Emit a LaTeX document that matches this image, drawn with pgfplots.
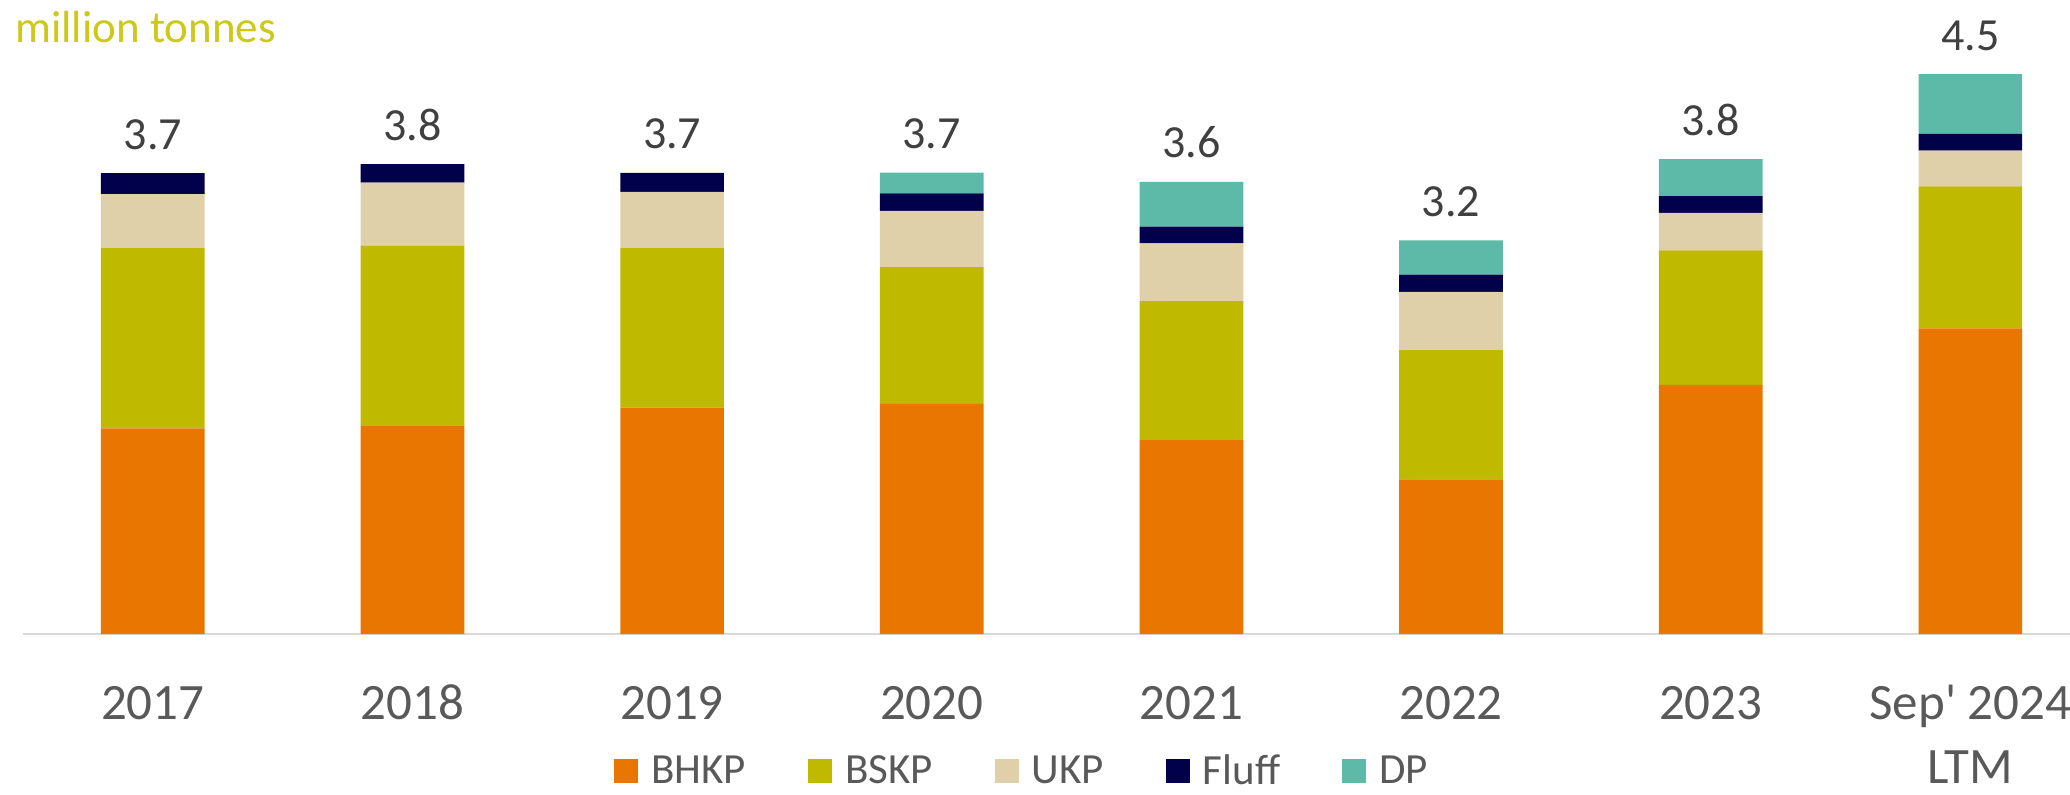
\documentclass[border=0pt]{standalone}
\usepackage{pgfplots}
\pgfplotsset{compat=1.18}
\usepackage{fontspec}
\setmainfont{Carlito}
\definecolor{bhkp}{RGB}{232,118,0}
\definecolor{bskp}{RGB}{191,185,0}
\definecolor{ukp}{RGB}{223,208,169}
\definecolor{fluff}{RGB}{0,0,75}
\definecolor{dp}{RGB}{93,186,168}
\definecolor{titlecol}{RGB}{205,200,25}
\definecolor{ticktext}{RGB}{89,89,89}
\definecolor{labeltext}{RGB}{64,64,64}
\definecolor{axisgray}{RGB}{217,217,217}
\pgfplotsset{sqlegend/.style={legend image code/.code={\fill[##1] (0pt,-6pt) rectangle (12pt,6pt);}}}
\pgfplotsset{base/.style={
  at={(11.5pt,80pt)}, anchor=south west,
  scale only axis,
  width=1023.5pt, height=311.5pt,
  xmin=-0.5, xmax=7.384,
  ymin=0, ymax=5,
  clip=false}}
\begin{document}
\begin{tikzpicture}[x=1pt,y=1pt]
\begin{axis}[
  base,
  ybar stacked, bar width=51.85pt,
  axis x line*=bottom, axis y line=none,
  x axis line style={axisgray, line width=0.85pt},
  xtick={0,...,7},
  xticklabels={\strut 2017,\strut 2018,\strut 2019,\strut 2020,\strut 2021,\strut 2022,\strut 2023,{\strut Sep\textquotesingle{} 2024\\LTM}},
  major tick length=0pt,
  xtick style={draw=none},
  xticklabel style={anchor=north, inner sep=0pt, yshift=-20.1pt, align=center,
    font=\fontsize{25.5pt}{32pt}\selectfont, text=ticktext},
  legend style={at={(axis description cs:0.2887,-0.2195)}, anchor=west,
    draw=none, fill=none, inner sep=0pt, legend columns=5,
    font=\fontsize{21.5pt}{21.5pt}\selectfont, text=ticktext,
    nodes={inner sep=0pt},
    /tikz/every odd column/.append style={column sep=6.5pt},
    /tikz/every even column/.append style={column sep=31pt}},
  legend cell align=left,
]
\addplot[fill=bhkp, draw=none, sqlegend] coordinates {(0,1.650) (1,1.674) (2,1.816) (3,1.846) (4,1.556) (5,1.241) (6,1.999) (7,2.452)};
\addlegendentry{BHKP}
\addplot[fill=bskp, draw=none, sqlegend] coordinates {(0,1.447) (1,1.441) (2,1.282) (3,1.099) (4,1.116) (5,1.038) (6,1.079) (7,1.140)};
\addlegendentry{BSKP}
\addplot[fill=ukp, draw=none, sqlegend] coordinates {(0,0.433) (1,0.507) (2,0.450) (3,0.450) (4,0.463) (5,0.467) (6,0.301) (7,0.287)};
\addlegendentry{UKP}
\addplot[fill=fluff, draw=none, sqlegend] coordinates {(0,0.169) (1,0.149) (2,0.152) (3,0.142) (4,0.135) (5,0.139) (6,0.135) (7,0.135)};
\addlegendentry{Fluff}
\addplot[fill=dp, draw=none, sqlegend] coordinates {(0,0) (1,0) (2,0) (3,0.166) (4,0.358) (5,0.274) (6,0.298) (7,0.480)};
\addlegendentry{DP}
\end{axis}
\begin{axis}[base, hide axis]
\addplot[draw=none, mark=none, nodes near coords, point meta=explicit symbolic,
  every node near coord/.append style={anchor=base, inner sep=0pt, yshift=12pt,
    font=\fontsize{23pt}{23pt}\selectfont, text=labeltext}]
  coordinates {(0,3.699) [3.7] (1,3.771) [3.8] (2,3.700) [3.7] (3,3.703) [3.7] (4,3.628) [3.6] (5,3.159) [3.2] (6,3.812) [3.8] (7,4.494) [4.5]};
\end{axis}
\node[anchor=base west, inner sep=0pt, font=\fontsize{22.5pt}{22.5pt}\selectfont, text=titlecol] at (7.5,375.5) {million tonnes};
\pgfresetboundingbox
\path (0,0) rectangle (1035,397);
\end{tikzpicture}
\end{document}
